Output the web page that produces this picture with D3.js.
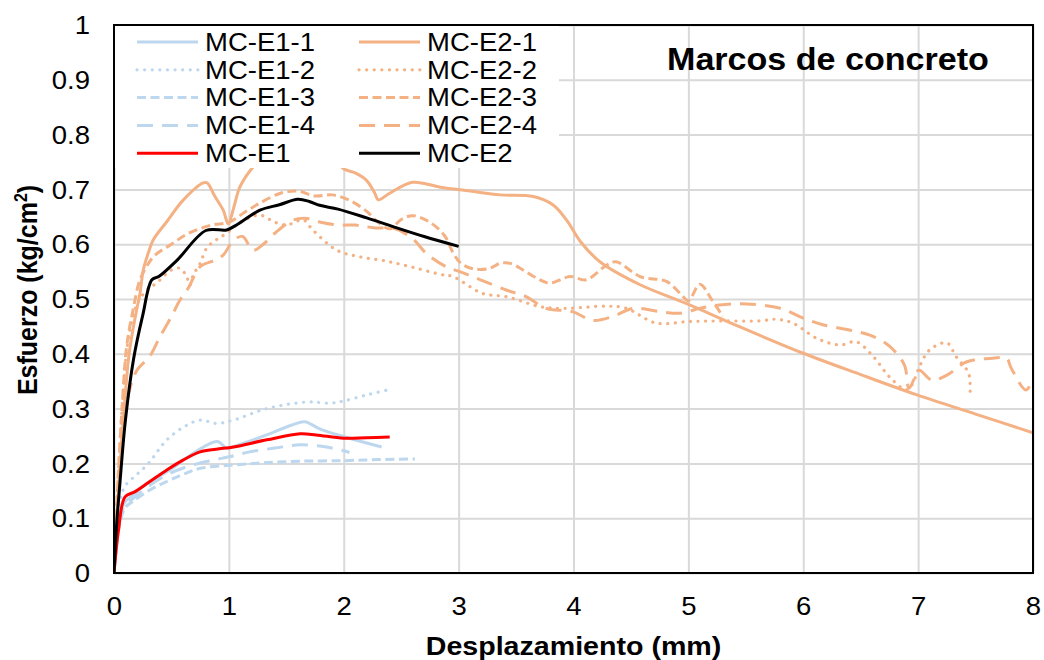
<!DOCTYPE html>
<html>
<head>
<meta charset="utf-8">
<script src="https://cdn.jsdelivr.net/npm/d3@7"></script>
<style>
  html, body { margin: 0; padding: 0; background: #fff; }
  svg { display: block; font-family: "Liberation Sans", Arial, sans-serif; }
</style>
</head>
<body>
<svg id="chart" width="1044" height="660"></svg>
<script>
// Displacement (mm) vs. stress (kg/cm²) for concrete frames
const xTickValues = [0, 1, 2, 3, 4, 5, 6, 7, 8];
const yTickValues = [0, 0.1, 0.2, 0.3, 0.4, 0.5, 0.6, 0.7, 0.8, 0.9, 1];
const seriesNames = ["MC-E1-1", "MC-E1-2", "MC-E1-3", "MC-E1-4", "MC-E1",
                     "MC-E2-1", "MC-E2-2", "MC-E2-3", "MC-E2-4", "MC-E2"];

const MC_E1_1 = [[0,0],[0.04,0.08],[0.08,0.125],[0.15,0.14],[0.3,0.165],[0.5,0.19],[0.7,0.22],
  [0.9,0.24],[0.98,0.228],[1.1,0.235],[1.33,0.252],[1.55,0.27],[1.66,0.276],[1.8,0.262],
  [2.05,0.246],[2.33,0.23]];
const MC_E1_2 = [[0,0],[0.03,0.1],[0.06,0.14],[0.1,0.16],[0.2,0.18],[0.3,0.2],[0.46,0.243],
  [0.62,0.268],[0.75,0.279],[0.89,0.273],[1.04,0.279],[1.33,0.3],[1.68,0.312],[1.88,0.31],
  [2.0,0.314],[2.2,0.325],[2.4,0.335]];
const MC_E1_3 = [[0,0],[0.05,0.09],[0.1,0.12],[0.16,0.13],[0.3,0.15],[0.46,0.167],[0.6,0.18],
  [0.75,0.191],[1.04,0.197],[1.3,0.201],[1.62,0.204],[2.0,0.205],[2.3,0.207],[2.62,0.208]];
const MC_E1_4 = [[0,0],[0.05,0.1],[0.1,0.125],[0.16,0.135],[0.3,0.158],[0.46,0.179],[0.65,0.195],
  [0.86,0.206],[1.0,0.212],[1.18,0.221],[1.4,0.228],[1.62,0.234],[1.85,0.23],[2.05,0.22]];
const MC_E1 = [[0,0],[0.04,0.08],[0.096,0.139],[0.18,0.148],[0.3,0.165],[0.46,0.188],[0.6,0.206],
  [0.75,0.221],[0.89,0.226],[1.04,0.23],[1.33,0.243],[1.62,0.254],[1.76,0.252],[2.0,0.246],
  [2.2,0.247],[2.4,0.248]];

const MC_E2_1 = [[0,0],[0.03,0.12],[0.07,0.25],[0.1,0.33],[0.125,0.389],[0.154,0.431],[0.197,0.48],
  [0.226,0.51],[0.255,0.553],[0.3,0.585],[0.342,0.608],[0.459,0.641],[0.6,0.68],[0.777,0.712],
  [0.81,0.712],[0.879,0.687],[0.951,0.662],[0.995,0.637],[1.04,0.665],[1.097,0.705],[1.21,0.741],
  [1.4,0.78],[1.7,0.79],[1.9,0.765],[1.995,0.738],[2.1,0.73],[2.2,0.716],[2.27,0.693],[2.3,0.681],
  [2.4,0.693],[2.6,0.713],[2.84,0.704],[3.1,0.697],[3.36,0.69],[3.65,0.687],[3.82,0.672],
  [3.94,0.644],[4.06,0.605],[4.23,0.568],[4.58,0.526],[4.98,0.492],[5.45,0.449],[6.0,0.401],
  [6.5,0.362],[6.99,0.325],[7.5,0.29],[8.0,0.256]];
const MC_E2_2 = [[0,0],[0.03,0.15],[0.07,0.3],[0.12,0.42],[0.2,0.49],[0.28,0.515],[0.37,0.529],
  [0.5,0.553],[0.574,0.556],[0.632,0.541],[0.66,0.525],[0.69,0.544],[0.75,0.565],[0.807,0.593],
  [0.89,0.608],[0.98,0.62],[1.1,0.64],[1.27,0.653],[1.4,0.64],[1.5,0.635],[1.65,0.644],
  [1.73,0.626],[1.94,0.589],[2.14,0.577],[2.35,0.57],[2.58,0.559],[2.84,0.545],[2.95,0.541],
  [3.21,0.51],[3.42,0.504],[3.71,0.486],[3.94,0.483],[4.29,0.487],[4.46,0.483],[4.72,0.456],
  [5.01,0.459],[5.3,0.46],[5.62,0.46],[5.77,0.463],[5.91,0.456],[6.12,0.428],[6.32,0.416],
  [6.46,0.422],[6.61,0.395],[6.75,0.358],[6.9,0.334],[6.95,0.345],[7.01,0.376],[7.1,0.407],
  [7.25,0.42],[7.33,0.395],[7.44,0.364],[7.45,0.319]];
const MC_E2_3 = [[0,0],[0.03,0.15],[0.07,0.3],[0.11,0.413],[0.166,0.48],[0.226,0.535],[0.3,0.565],
  [0.357,0.58],[0.5,0.6],[0.65,0.62],[0.85,0.635],[1.0,0.64],[1.15,0.66],[1.27,0.675],[1.45,0.693],
  [1.6,0.697],[1.75,0.688],[1.9,0.69],[2.05,0.68],[2.2,0.66],[2.3,0.64],[2.4,0.628],[2.5,0.645],
  [2.6,0.652],[2.75,0.64],[2.88,0.615],[2.95,0.585],[3.02,0.565],[3.13,0.555],[3.27,0.556],
  [3.36,0.565],[3.45,0.565],[3.56,0.553],[3.68,0.538],[3.79,0.529],[3.97,0.541],[4.11,0.535],
  [4.29,0.562],[4.37,0.568],[4.58,0.541],[4.81,0.532],[4.93,0.51],[5.0,0.497],[5.1,0.527],
  [5.2,0.5],[5.3,0.468]];
const MC_E2_4 = [[0,0],[0.04,0.15],[0.08,0.26],[0.13,0.33],[0.2,0.37],[0.31,0.395],[0.4,0.431],
  [0.5,0.468],[0.574,0.498],[0.647,0.52],[0.75,0.559],[0.88,0.571],[0.95,0.58],[1.04,0.607],
  [1.12,0.614],[1.21,0.589],[1.3,0.6],[1.4,0.62],[1.56,0.644],[1.68,0.647],[1.8,0.64],
  [1.95,0.635],[2.1,0.635],[2.26,0.63],[2.45,0.628],[2.6,0.61],[2.72,0.583],[2.89,0.559],
  [3.01,0.55],[3.19,0.535],[3.42,0.516],[3.59,0.504],[3.76,0.483],[3.99,0.477],[4.17,0.461],
  [4.34,0.468],[4.52,0.483],[4.75,0.477],[4.93,0.474],[5.1,0.483],[5.27,0.489],[5.51,0.491],
  [5.8,0.483],[6.0,0.465],[6.17,0.453],[6.41,0.443],[6.58,0.434],[6.75,0.414],[6.88,0.38],
  [6.92,0.337],[6.97,0.356],[7.01,0.37],[7.12,0.352],[7.25,0.361],[7.42,0.385],[7.65,0.392],
  [7.77,0.392],[7.81,0.374],[7.94,0.334],[8.0,0.356]];
const MC_E2 = [[0,0],[0.02,0.08],[0.05,0.16],[0.1,0.28],[0.17,0.39],[0.25,0.47],[0.33,0.535],
  [0.39,0.541],[0.55,0.571],[0.8,0.625],[0.98,0.626],[1.05,0.633],[1.27,0.662],[1.44,0.672],
  [1.6,0.682],[1.7,0.678],[1.79,0.671],[1.95,0.664],[2.2,0.648],[2.43,0.632],[2.7,0.614],
  [3.0,0.596]];

const chartTitle = "Marcos de concreto";
const xTitle = "Desplazamiento (mm)";

// ---- styling ----
const BLUE = "#bdd7ee", ORANGE = "#f4b183";
const DOT = "0.1 7.5", SHORT = "9 4.5", LONG = "16 9";
const series = [
  { name: seriesNames[0], data: MC_E1_1, color: BLUE,   dash: null,  w: 3 },
  { name: seriesNames[1], data: MC_E1_2, color: BLUE,   dash: DOT,   w: 3.2 },
  { name: seriesNames[2], data: MC_E1_3, color: BLUE,   dash: SHORT, w: 3 },
  { name: seriesNames[3], data: MC_E1_4, color: BLUE,   dash: LONG,  w: 3 },
  { name: seriesNames[4], data: MC_E1,   color: "#ff0000", dash: null, w: 3 },
  { name: seriesNames[5], data: MC_E2_1, color: ORANGE, dash: null,  w: 3 },
  { name: seriesNames[6], data: MC_E2_2, color: ORANGE, dash: DOT,   w: 3.2 },
  { name: seriesNames[7], data: MC_E2_3, color: ORANGE, dash: SHORT, w: 3 },
  { name: seriesNames[8], data: MC_E2_4, color: ORANGE, dash: LONG,  w: 3 },
  { name: seriesNames[9], data: MC_E2,   color: "#000000", dash: null, w: 3 }
];
const drawOrder = [0, 1, 2, 3, 5, 6, 7, 8, 4, 9];

const STRETCH = 1.1; // glyphs are drawn slightly wide
const plot = { left: 114, right: 1033, top: 25, bottom: 573 };
const svg = d3.select("#chart");

const x = d3.scaleLinear().domain([0, 8]).range([plot.left, plot.right]);
const y = d3.scaleLinear().domain([0, 1]).range([plot.bottom, plot.top]);
const fmt = d => String(+d.toFixed(1));

// gridlines
svg.append("g")
  .attr("transform", `translate(0,${plot.bottom})`)
  .call(d3.axisBottom(x).tickValues(xTickValues).tickSize(-(plot.bottom - plot.top)).tickFormat(""))
  .call(g => g.select(".domain").remove())
  .call(g => g.selectAll("line").attr("stroke", "#d9d9d9").attr("stroke-width", 2));
svg.append("g")
  .attr("transform", `translate(${plot.left},0)`)
  .call(d3.axisLeft(y).tickValues(yTickValues).tickSize(-(plot.right - plot.left)).tickFormat(""))
  .call(g => g.select(".domain").remove())
  .call(g => g.selectAll("line").attr("stroke", "#d9d9d9").attr("stroke-width", 2));

// series
svg.append("clipPath").attr("id", "plotclip").append("rect")
  .attr("x", plot.left).attr("y", plot.top)
  .attr("width", plot.right - plot.left).attr("height", plot.bottom - plot.top);
const line = d3.line().x(d => x(d[0])).y(d => y(d[1])).curve(d3.curveCatmullRom.alpha(0.5));
const gSeries = svg.append("g").attr("clip-path", "url(#plotclip)");
drawOrder.forEach(i => {
  const s = series[i];
  gSeries.append("path")
    .attr("d", line(s.data))
    .attr("fill", "none")
    .attr("stroke", s.color)
    .attr("stroke-width", s.w)
    .attr("stroke-linejoin", "round")
    .attr("stroke-linecap", s.dash === DOT ? "round" : "butt")
    .attr("stroke-dasharray", s.dash);
});

// legend
const legend = svg.append("g");
legend.append("rect")
  .attr("x", plot.left + 1).attr("y", plot.top + 1)
  .attr("width", 444).attr("height", 142).attr("fill", "#fff");
const rowY = i => 42 + i * 27.8;
series.forEach((s, i) => {
  const col = i < 5 ? 0 : 1;
  const row = i % 5;
  const lx = col === 0 ? 137 : 359;
  const tx = col === 0 ? 205 : 427;
  legend.append("line")
    .attr("x1", lx).attr("x2", lx + 61)
    .attr("y1", rowY(row)).attr("y2", rowY(row))
    .attr("stroke", s.color).attr("stroke-width", s.w)
    .attr("stroke-linecap", s.dash === DOT ? "round" : "butt")
    .attr("stroke-dasharray", s.dash);
  legend.append("text")
    .attr("transform", `translate(${tx},${rowY(row)}) scale(${STRETCH},1)`)
    .attr("dy", "0.35em")
    .attr("font-size", 25)
    .attr("fill", "#000")
    .text(s.name);
});

// axes with labels
svg.append("g")
  .attr("transform", `translate(0,${plot.bottom})`)
  .call(d3.axisBottom(x).tickValues(xTickValues).tickSize(0).tickPadding(0).tickFormat(fmt))
  .call(g => g.select(".domain").remove())
  .call(g => g.selectAll("text")
    .attr("y", 24).attr("dy", "0.71em")
    .attr("font-size", 25).attr("fill", "#000")
    .attr("font-family", "Liberation Sans, Arial, sans-serif")
    .attr("transform", `scale(${STRETCH},1)`));
svg.append("g")
  .attr("transform", `translate(${plot.left},0)`)
  .call(d3.axisLeft(y).tickValues(yTickValues).tickSize(0).tickPadding(0).tickFormat(fmt))
  .call(g => g.select(".domain").remove())
  .call(g => g.selectAll("text")
    .attr("x", 0).attr("dy", "0.35em")
    .attr("font-size", 25).attr("fill", "#000")
    .attr("font-family", "Liberation Sans, Arial, sans-serif")
    .attr("transform", `translate(-24,0) scale(${STRETCH},1)`));

// plot frame
svg.append("rect")
  .attr("x", plot.left).attr("y", plot.top)
  .attr("width", plot.right - plot.left).attr("height", plot.bottom - plot.top)
  .attr("fill", "none").attr("stroke", "#000").attr("stroke-width", 2);

// titles
svg.append("text")
  .attr("transform", `translate(667,70) scale(1.065,1)`)
  .attr("font-size", 32).attr("font-weight", "bold")
  .text(chartTitle);
svg.append("text")
  .attr("transform", `translate(${(plot.left + plot.right) / 2},655) scale(${STRETCH},1)`)
  .attr("text-anchor", "middle")
  .attr("font-size", 26).attr("font-weight", "bold")
  .text(xTitle);
const yTitle = svg.append("text")
  .attr("transform", `translate(37,290) scale(${STRETCH},1) rotate(-90)`)
  .attr("text-anchor", "middle")
  .attr("font-size", 25).attr("font-weight", "bold");
yTitle.append("tspan").text("Esfuerzo (kg/cm");
yTitle.append("tspan").attr("font-size", 16).attr("dy", "-0.55em").text("2");
yTitle.append("tspan").attr("dy", "0.35em").text(")");
</script>
</body>
</html>
